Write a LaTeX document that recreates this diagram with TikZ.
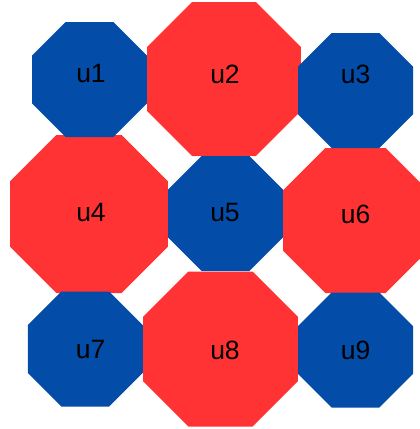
\documentclass[tikz,border=0pt]{standalone}
\usepackage{fontspec}
\setmainfont{Liberation Sans}
\usetikzlibrary{shapes.geometric}

\definecolor{octblue}{RGB}{3,76,168}
\definecolor{octred}{RGB}{255,51,51}

\tikzset{
  oct/.style={regular polygon, regular polygon sides=8, inner sep=0pt,
    outer sep=0pt, draw=none, minimum size=#1*1.0824pt},
  lbl/.style={inner sep=0pt, text=black, font=\fontsize{26.5}{30}\selectfont}
}

\begin{document}
\begin{tikzpicture}[x=1pt,y=-1pt]
  \useasboundingbox (0,0) rectangle (420,429);
  \clip (0,0) rectangle (420,429);
  % big red octagons first, small blue ones lie on top
  \foreach \cx/\cy/\w/\name in {224/79/154/u2, 89/214/158/u4, 355.5/220.5/145/u6, 220.5/349/155/u8}{
    \node[oct=\w, fill=octred] (\name) at (\cx,\cy) {};
  }
  \foreach \cx/\cy/\w/\name in {89.5/79.5/115/u1, 355.5/90.5/115/u3, 225.5/213.5/115/u5, 85.3/349/115/u7, 355.5/350/115/u9}{
    \node[oct=\w, fill=octblue] (\name) at (\cx,\cy) {};
  }
  % labels
  \foreach \lx/\ly/\name in {91/74/u1, 225/74/u2, 355.7/74/u3, 91/213/u4, 225/213/u5, 355.7/214/u6, 90.7/350/u7, 225/350/u8, 355.7/350/u9}{
    \node[lbl] (l\name) at (\lx,\ly) {\name};
  }
\end{tikzpicture}
\end{document}
